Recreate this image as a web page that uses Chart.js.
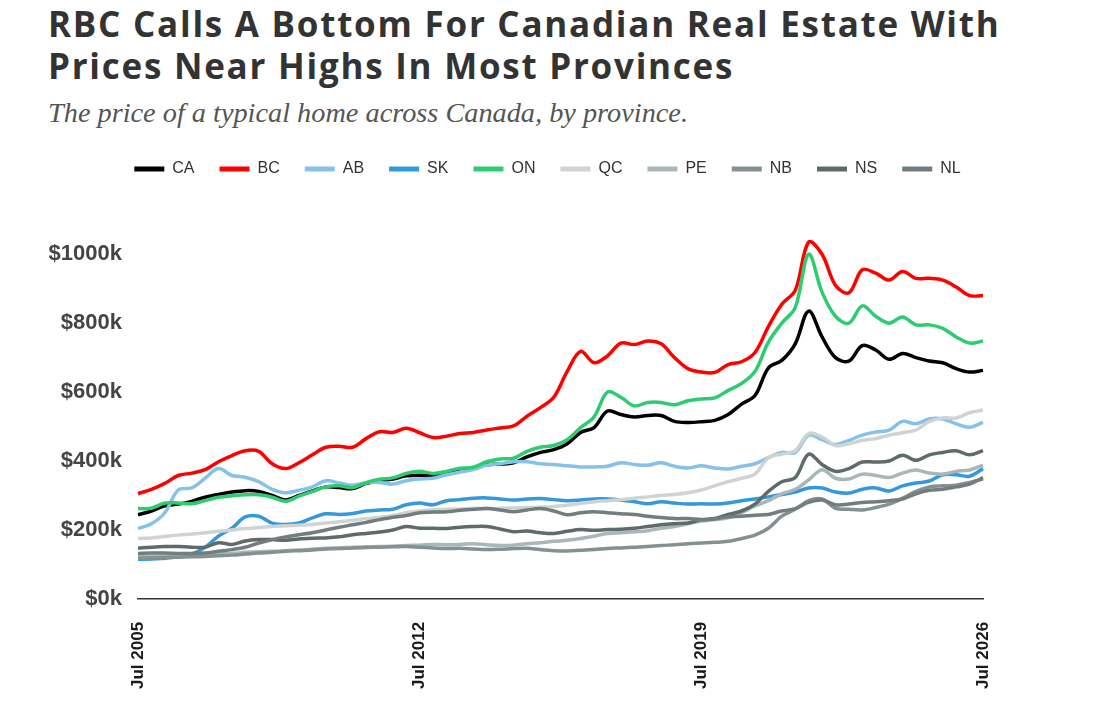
<!DOCTYPE html>
<html>
<head>
<meta charset="utf-8">
<script src="https://cdn.jsdelivr.net/npm/chart.js@4.4.1/dist/chart.umd.min.js"></script>
<style>
  html, body { margin: 0; padding: 0; background: #fff; }
  body { width: 1095px; height: 710px; position: relative; overflow: hidden; }
  h1 {
    position: absolute; left: 48px; top: 3px; margin: 0; width: 1045px;
    font-family: "Open Sans", sans-serif; font-weight: 700; font-size: 35px;
    line-height: 42px; color: #333; letter-spacing: 1.75px; white-space: nowrap;
  }
  .sub {
    position: absolute; left: 48px; top: 97px; margin: 0;
    font-family: "Liberation Serif", serif; font-style: italic; font-size: 28.3px;
    color: #555;
  }
  #wrap { position: absolute; left: 0; top: 136px; width: 1095px; height: 574px; }
</style>
</head>
<body>
<h1>RBC Calls A Bottom For Canadian Real Estate With<br>Prices Near Highs In Most Provinces</h1>
<p class="sub">The price of a typical home across Canada, by province.</p>
<div id="wrap"><canvas id="myChart"></canvas></div>
<script>
// Dates every 4 months, Jul 2005 .. Jul 2026
const dates = [
  'Jul 2005','Nov 2005','Mar 2006','Jul 2006','Nov 2006','Mar 2007','Jul 2007','Nov 2007','Mar 2008',
  'Jul 2008','Nov 2008','Mar 2009','Jul 2009','Nov 2009','Mar 2010','Jul 2010','Nov 2010','Mar 2011',
  'Jul 2011','Nov 2011','Mar 2012','Jul 2012','Nov 2012','Mar 2013','Jul 2013','Nov 2013','Mar 2014',
  'Jul 2014','Nov 2014','Mar 2015','Jul 2015','Nov 2015','Mar 2016','Jul 2016','Nov 2016','Mar 2017',
  'Jul 2017','Nov 2017','Mar 2018','Jul 2018','Nov 2018','Mar 2019','Jul 2019','Nov 2019','Mar 2020',
  'Jul 2020','Nov 2020','Mar 2021','Jul 2021','Nov 2021','Mar 2022','Jul 2022','Nov 2022','Mar 2023',
  'Jul 2023','Nov 2023','Mar 2024','Jul 2024','Nov 2024','Mar 2025','Jul 2025','Nov 2025','Mar 2026',
  'Jul 2026'
];
const xTickLabels = ['Jul 2005', 'Jul 2012', 'Jul 2019', 'Jul 2026'];
const yTickValues = [0, 200, 400, 600, 800, 1000];

// Typical home price, thousands of dollars
const CA = [244,255,270,275,283,295,303,310,314,312,300,287,300,313,325,323,320,335,343,348,357,359,357,364,371,380,389,391,395,412,425,433,450,483,497,545,535,528,532,532,515,512,514,518,535,565,590,670,692,740,835,760,700,690,735,722,695,712,700,690,685,668,658,663];
const BC = [305,318,335,358,365,375,398,416,430,428,392,378,395,418,440,443,440,465,485,483,495,482,468,472,480,483,490,496,502,530,555,585,660,718,685,705,742,738,748,740,700,668,658,657,680,688,715,790,855,895,1035,1000,910,888,955,945,925,950,930,930,925,905,880,880];
const AB = [204,218,250,316,322,350,378,358,353,340,318,308,315,325,343,336,330,337,338,333,343,348,350,360,368,375,388,392,398,398,392,390,386,383,383,385,395,390,388,395,385,380,386,380,377,385,392,410,425,425,475,462,448,460,475,484,490,515,508,522,522,508,498,512];
const SK = [115,116,118,122,130,150,182,205,238,240,220,216,220,235,247,245,248,255,258,260,273,278,273,285,288,292,293,290,287,290,291,288,285,287,290,290,287,282,276,282,278,275,276,275,278,285,290,296,303,310,322,322,310,307,318,322,313,328,336,342,360,360,356,378];
const ON = [262,263,278,278,276,285,295,299,302,302,295,283,298,312,325,328,323,337,347,351,364,370,364,370,379,382,398,406,408,428,440,445,462,497,528,600,585,560,570,570,563,575,580,583,605,625,660,745,800,845,1000,890,820,800,850,820,800,818,795,795,785,760,742,748];
const QC = [175,177,181,185,188,192,196,200,204,207,210,212,214,216,220,224,228,233,237,242,250,255,258,260,261,262,262,263,264,265,266,268,272,277,282,285,288,292,296,300,303,308,316,328,340,350,362,410,420,430,480,470,445,450,460,465,475,482,490,515,525,525,540,548];
const PE = [122,124,125,126,127,128,130,132,135,137,138,140,142,144,147,148,150,151,152,153,155,156,158,157,158,160,157,155,156,160,163,167,170,175,182,190,192,195,198,205,210,218,226,230,235,250,270,285,305,318,345,375,350,348,362,358,352,365,374,365,362,370,374,388];
const NB = [118,119,120,121,122,123,125,127,130,133,135,138,140,142,145,146,148,149,150,151,152,150,148,146,147,145,143,144,146,147,143,140,139,141,143,146,148,150,152,155,157,160,162,164,167,175,185,205,240,260,285,290,263,260,258,265,275,292,312,325,328,330,338,348];
const NS = [147,150,152,152,150,150,163,158,168,172,172,170,174,176,177,180,186,190,194,200,210,205,205,204,208,210,210,203,195,197,192,190,196,201,199,201,202,205,210,215,218,220,230,233,245,255,275,312,340,352,420,390,370,378,397,397,400,417,402,418,425,430,418,430];
const NL = [132,133,133,132,132,133,138,143,150,162,172,180,186,192,200,208,215,222,230,237,242,250,252,253,257,260,262,258,253,258,262,255,244,250,253,250,247,245,240,236,233,233,230,232,238,240,243,245,255,262,280,287,273,275,280,282,285,290,305,315,318,325,333,352];

const seriesNames = ['CA', 'BC', 'AB', 'SK', 'ON', 'QC', 'PE', 'NB', 'NS', 'NL'];
const seriesData = [CA, BC, AB, SK, ON, QC, PE, NB, NS, NL];
const seriesColors = ['#000000', '#ff0000', '#85c1e9', '#3498db', '#2ecc71', '#d0d3d4', '#aab7b8', '#839192', '#5f6a6a', '#717d7e'];

const datasets = seriesNames.map((name, i) => ({
  label: name,
  data: seriesData[i],
  borderColor: seriesColors[i],
  backgroundColor: seriesColors[i],
  borderWidth: 3.5,
  pointRadius: 0,
  tension: 0.35,
  fill: false,
  order: -i // later series drawn on top
}));

const ctx = document.getElementById('myChart').getContext('2d');

new Chart(ctx, {
  type: 'line',
  data: { labels: dates, datasets: datasets },
  options: {
    responsive: true,
    maintainAspectRatio: false,
    animation: false,
    layout: { padding: { left: 0, right: 0, top: 0, bottom: 6 } },
    plugins: {
      tooltip: { enabled: false },
      legend: {
        position: 'top',
        labels: {
          boxWidth: 30,
          boxHeight: 5,
          padding: 25,
          color: '#333',
          font: { family: 'Arial, "Liberation Sans", sans-serif', size: 16 },
          sort: (a, b) => a.datasetIndex - b.datasetIndex,
          generateLabels: function (chart) {
            return Chart.defaults.plugins.legend.labels.generateLabels(chart).map(item => {
              item.lineWidth = 0;
              return item;
            });
          }
        }
      }
    },
    scales: {
      x: {
        grid: { display: false },
        border: { display: true, color: '#333', width: 1.5 },
        ticks: {
          autoSkip: false,
          maxRotation: 90,
          minRotation: 90,
          padding: 15,
          color: '#1a1a1a',
          font: { family: 'Arial, "Liberation Sans", sans-serif', size: 17, weight: 'bold' },
          callback: function (value) {
            const lab = this.getLabelForValue(value);
            return xTickLabels.includes(lab) ? lab : '';
          }
        }
      },
      y: {
        min: 0,
        max: 1195,
        grid: { display: false },
        border: { display: false },
        afterFit: axis => { axis.width = 138; },
        afterBuildTicks: axis => {
          axis.ticks = yTickValues.map(v => ({ value: v }));
        },
        ticks: {
          padding: 8,
          color: '#444',
          font: { family: 'Arial, "Liberation Sans", sans-serif', size: 22, weight: 'bold' },
          callback: value => '$' + value + 'k'
        }
      },
      // empty right-hand axis, only reserves the blank strip right of the plot
      yRight: {
        position: 'right',
        grid: { display: false },
        border: { display: false },
        ticks: { display: false },
        afterFit: axis => { axis.width = 112; }
      }
    }
  }
});
</script>
</body>
</html>
